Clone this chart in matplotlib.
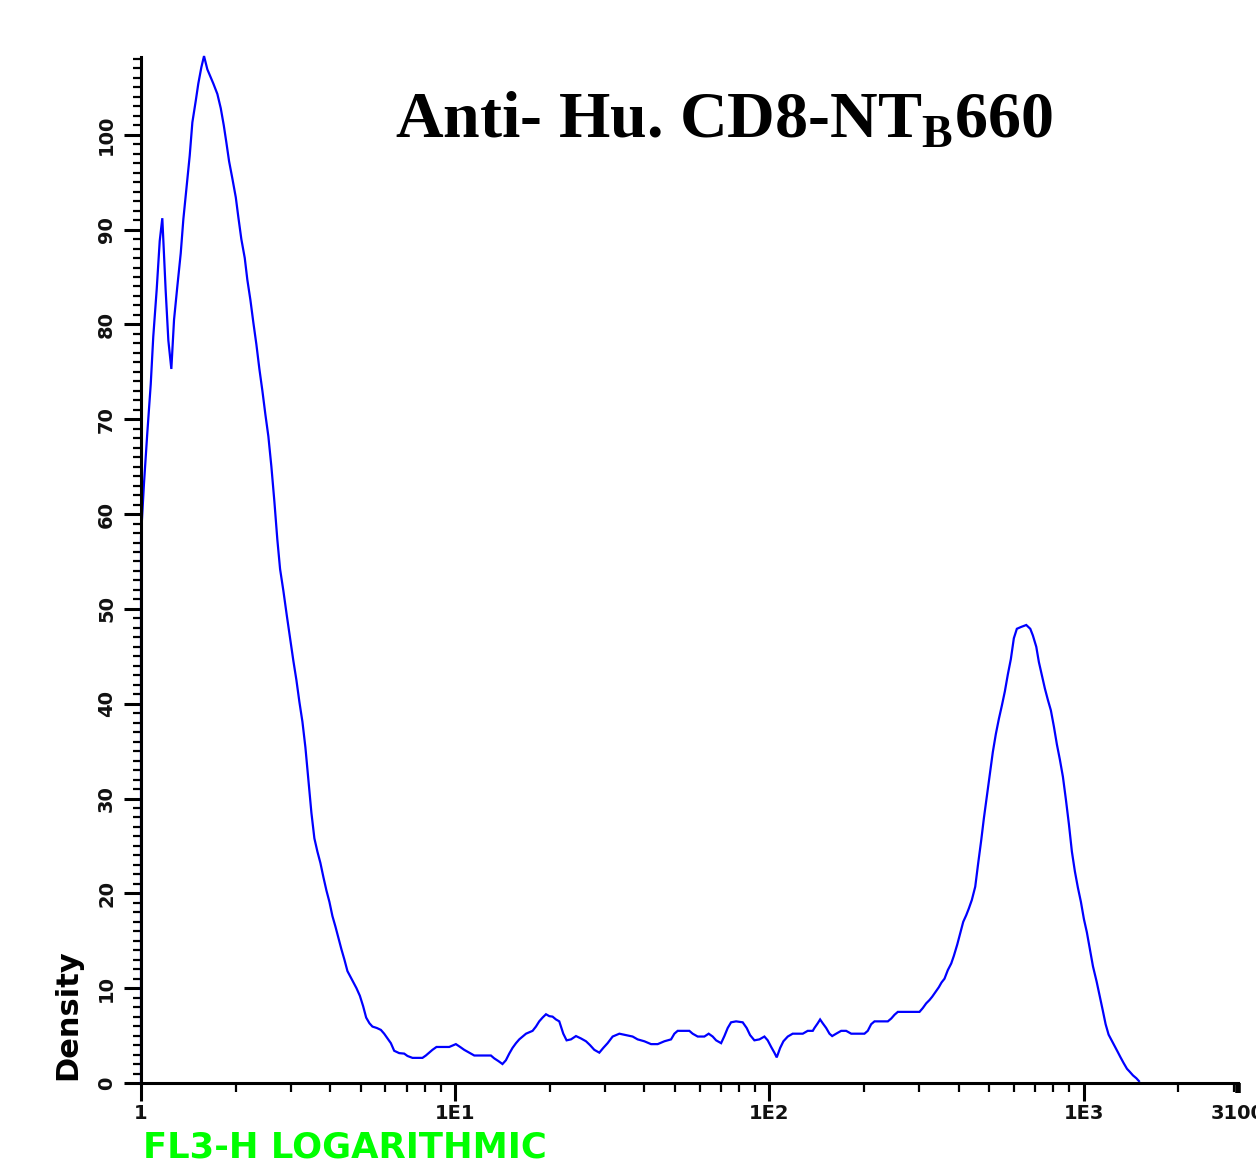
import matplotlib
matplotlib.use("Agg")
import matplotlib.pyplot as plt
from matplotlib.ticker import FixedLocator, LogLocator, NullFormatter

# ---- data ----
fl3 = [1.0, 1.0, 1.022, 1.047, 1.074, 1.094, 1.122, 1.147, 1.169, 1.198, 1.222, 1.249, 1.274,
       1.305, 1.338, 1.364, 1.398, 1.429, 1.457, 1.494, 1.522, 1.556, 1.587, 1.626, 1.659, 1.699,
       1.750, 1.794, 1.834, 1.869, 1.907, 1.953, 2.003, 2.041, 2.086, 2.139, 2.180, 2.229, 2.278,
       2.329, 2.381, 2.434, 2.488, 2.543, 2.600, 2.658, 2.716, 2.771, 2.839, 2.911, 2.982, 3.055,
       3.123, 3.192, 3.264, 3.336, 3.410, 3.486, 3.563, 3.643, 3.724, 3.807, 3.892, 3.978, 4.067,
       4.157, 4.250, 4.344, 4.441, 4.540, 4.641, 4.744, 4.850, 4.972, 5.093, 5.207, 5.334, 5.453,
       5.632, 5.800, 5.942, 6.087, 6.241, 6.394, 6.634, 6.881, 7.049, 7.311, 7.584, 7.867, 8.066,
       8.263, 8.466, 8.718, 9.111, 9.570, 10.05, 10.37, 10.68, 11.08, 11.50, 12.53, 12.99, 13.31,
       13.74, 14.14, 14.50, 14.86, 15.22, 15.61, 15.99, 16.38, 16.80, 17.63, 18.07, 18.51, 18.97,
       19.45, 19.93, 20.41, 20.93, 21.44, 21.71, 22.08, 22.62, 23.36, 24.23, 25.13, 26.08, 26.85,
       27.71, 28.75, 29.60, 30.55, 31.70, 33.30, 34.96, 36.70, 38.07, 39.99, 42.01, 44.10, 46.32,
       48.64, 49.84, 51.05, 53.62, 55.62, 56.98, 59.12, 62.09, 64.08, 65.99, 67.66, 70.19, 71.90,
       73.66, 75.51, 78.33, 82.22, 84.66, 86.80, 89.58, 92.94, 96.41, 98.76, 101.3, 103.7, 105.5,
       108.2, 110.8, 114.4, 118.6, 127.7, 132.4, 137.4, 139.1, 142.5, 145.0, 147.8, 151.6, 155.3,
       158.4, 163.1, 169.2, 175.5, 182.1, 200.7, 205.6, 210.8, 216.0, 238.2, 244.2, 250.2, 256.3,
       300.4, 307.7, 315.5, 323.2, 329.7, 337.8, 346.1, 353.0, 360.8, 369.6, 379.0, 386.3, 396.1,
       404.9, 413.9, 423.1, 431.2, 440.8, 451.9, 461.9, 472.2, 481.4, 492.0, 503.0, 514.1, 525.6,
       537.4, 549.3, 561.5, 574.0, 586.7, 599.7, 613.1, 633.2, 656.9, 676.5, 689.4, 706.9, 720.4,
       736.5, 752.9, 769.6, 786.7, 804.2, 822.2, 840.4, 859.2, 878.2, 897.8, 917.7, 938.2, 959.0,
       980.4, 1002, 1024, 1047, 1071, 1100, 1125, 1150, 1175, 1201, 1228, 1255, 1283, 1311, 1341,
       1374, 1401, 1436, 1472, 1500]

density = [0, 57.6, 63.2, 68.5, 73.7, 78.7, 83.7, 88.8, 91.2, 83.6, 78.3, 75.3, 80.5,
           84.0, 87.5, 91.1, 94.6, 97.8, 101.3, 103.6, 105.4, 107.1, 108.3, 106.9, 106.2, 105.4,
           104.3, 102.8, 101.0, 99.2, 97.2, 95.4, 93.4, 91.3, 89.0, 87.0, 84.7, 82.6, 80.2,
           77.9, 75.3, 73.0, 70.5, 68.2, 65.0, 61.3, 57.3, 54.2, 51.9, 49.3, 46.9, 44.5,
           42.5, 40.2, 38.1, 35.4, 31.9, 28.5, 25.8, 24.4, 23.2, 21.7, 20.3, 19.1, 17.6,
           16.5, 15.3, 14.1, 13.0, 11.8, 11.2, 10.6, 10.0, 9.2, 8.1, 6.9, 6.3, 5.95,
           5.8, 5.6, 5.2, 4.7, 4.2, 3.4, 3.15, 3.1, 2.85, 2.65, 2.65, 2.65, 2.9,
           3.2, 3.5, 3.8, 3.8, 3.8, 4.1, 3.8, 3.5, 3.2, 2.9, 2.9, 2.9, 2.6,
           2.3, 2.0, 2.4, 3.1, 3.7, 4.2, 4.6, 4.9, 5.2, 5.5, 5.95, 6.5, 6.9,
           7.25, 7.05, 7.0, 6.7, 6.5, 5.95, 5.2, 4.5, 4.6, 4.95, 4.7, 4.4, 4.0,
           3.5, 3.2, 3.7, 4.2, 4.9, 5.2, 5.05, 4.9, 4.6, 4.4, 4.1, 4.1, 4.4,
           4.6, 5.2, 5.5, 5.5, 5.5, 5.2, 4.9, 4.9, 5.2, 4.9, 4.5, 4.2, 4.95,
           5.8, 6.4, 6.5, 6.4, 5.8, 5.05, 4.5, 4.6, 4.9, 4.5, 3.8, 3.2, 2.7,
           3.7, 4.4, 4.9, 5.2, 5.2, 5.5, 5.5, 5.8, 6.3, 6.7, 6.3, 5.8, 5.2,
           4.95, 5.2, 5.5, 5.5, 5.2, 5.2, 5.5, 6.2, 6.5, 6.5, 6.8, 7.2, 7.5,
           7.5, 7.9, 8.4, 8.75, 9.1, 9.6, 10.1, 10.6, 11.0, 11.9, 12.6, 13.4, 14.6,
           15.8, 17.0, 17.7, 18.4, 19.3, 20.7, 23.2, 25.6, 27.9, 30.2, 32.6, 34.9, 36.8,
           38.4, 39.8, 41.3, 43.1, 44.7, 46.9, 47.9, 48.1, 48.3, 47.9, 47.2, 46.0, 44.4,
           43.0, 41.6, 40.4, 39.3, 37.6, 35.7, 34.1, 32.3, 29.9, 27.3, 24.4, 22.3, 20.6,
           19.1, 17.3, 15.9, 14.1, 12.3, 10.7, 9.2, 7.7, 6.2, 5.1, 4.5, 3.9, 3.3, 2.7, 2.1,
           1.5, 1.2, 0.8, 0.5, 0.2]

x_major = [1, 10, 100, 1000, 3100]
x_major_labels = ["1", "1E1", "1E2", "1E3", "3100"]
y_major = [0, 10, 20, 30, 40, 50, 60, 70, 80, 90, 100]
y_major_labels = ["0", "10", "20", "30", "40", "50", "60", "70", "80", "90", "100"]

title_main = "Anti- Hu. CD8-NT"
title_sub = "B"
title_tail = "660"
x_label = "FL3-H LOGARITHMIC"
y_label = "Density"

# ---- figure ----
W, H = 1256, 1172
fig = plt.figure(figsize=(W / 100, H / 100), dpi=100)
fig.patch.set_facecolor("white")
ax = fig.add_axes([141 / W, (H - 1083) / H, (1238 - 141) / W, (1083 - 57) / H])

ax.plot(fl3, density, color="#0000FF", lw=1.6, clip_on=False, solid_joinstyle="miter")

ax.set_xscale("log")
ax.set_xlim(1, 3100)
ax.set_ylim(0, 108.2)

for s in ["top", "right"]:
    ax.spines[s].set_visible(False)
for s in ["left", "bottom"]:
    ax.spines[s].set_linewidth(2.2)
    ax.spines[s].set_color("black")

ax.xaxis.set_major_locator(FixedLocator(x_major))
ax.set_xticklabels(x_major_labels)
ax.xaxis.set_minor_locator(LogLocator(base=10, subs=[2, 3, 4, 5, 6, 7, 8, 9], numticks=20))
ax.xaxis.set_minor_formatter(NullFormatter())

ax.yaxis.set_major_locator(FixedLocator(y_major))
ax.set_yticklabels(y_major_labels)
ax.yaxis.set_minor_locator(FixedLocator(list(range(0, 109))))

ax.tick_params(axis="x", which="major", direction="out", length=13, width=2.2, pad=2,
               labelsize=14)
ax.tick_params(axis="x", which="minor", direction="out", length=6.5, width=1.6)
ax.tick_params(axis="y", which="major", direction="out", length=12, width=2.2, pad=6,
               labelsize=14, labelrotation=90)
ax.tick_params(axis="y", which="minor", direction="out", length=6, width=1.6)

for lab in ax.get_xticklabels() + ax.get_yticklabels():
    lab.set_fontweight("bold")
    lab.set_color("#111111")
for lab in ax.get_yticklabels():
    lab.set_va("center")

# the end tick at 3100 is short
xt = ax.xaxis.get_major_ticks()
xt[-1].tick1line.set_markersize(7)
xt[-1].tick1line.set_markeredgewidth(4)

# y label sits at the bottom of the axis
fig.text(68 / W, 1 - 1080 / H, y_label, rotation=90, ha="center", va="bottom",
         fontsize=22, fontweight="bold", color="black")

# x label, green, bottom-left
fig.text(143 / W, 1 - 1148 / H, x_label, ha="left", va="center",
         fontsize=25.5, fontweight="bold", color="#00FF00")

# title with subscript
plt.rcParams["mathtext.fontset"] = "custom"
plt.rcParams["mathtext.rm"] = "Liberation Serif:bold"
fig.text(395 / W, 1 - 137 / H, title_main + r"$_\mathrm{" + title_sub + "}$" + title_tail,
         ha="left", va="baseline", fontsize=47.5, fontweight="bold",
         family="Liberation Serif", color="black")

fig.savefig("out.png", dpi=100, facecolor="white")
